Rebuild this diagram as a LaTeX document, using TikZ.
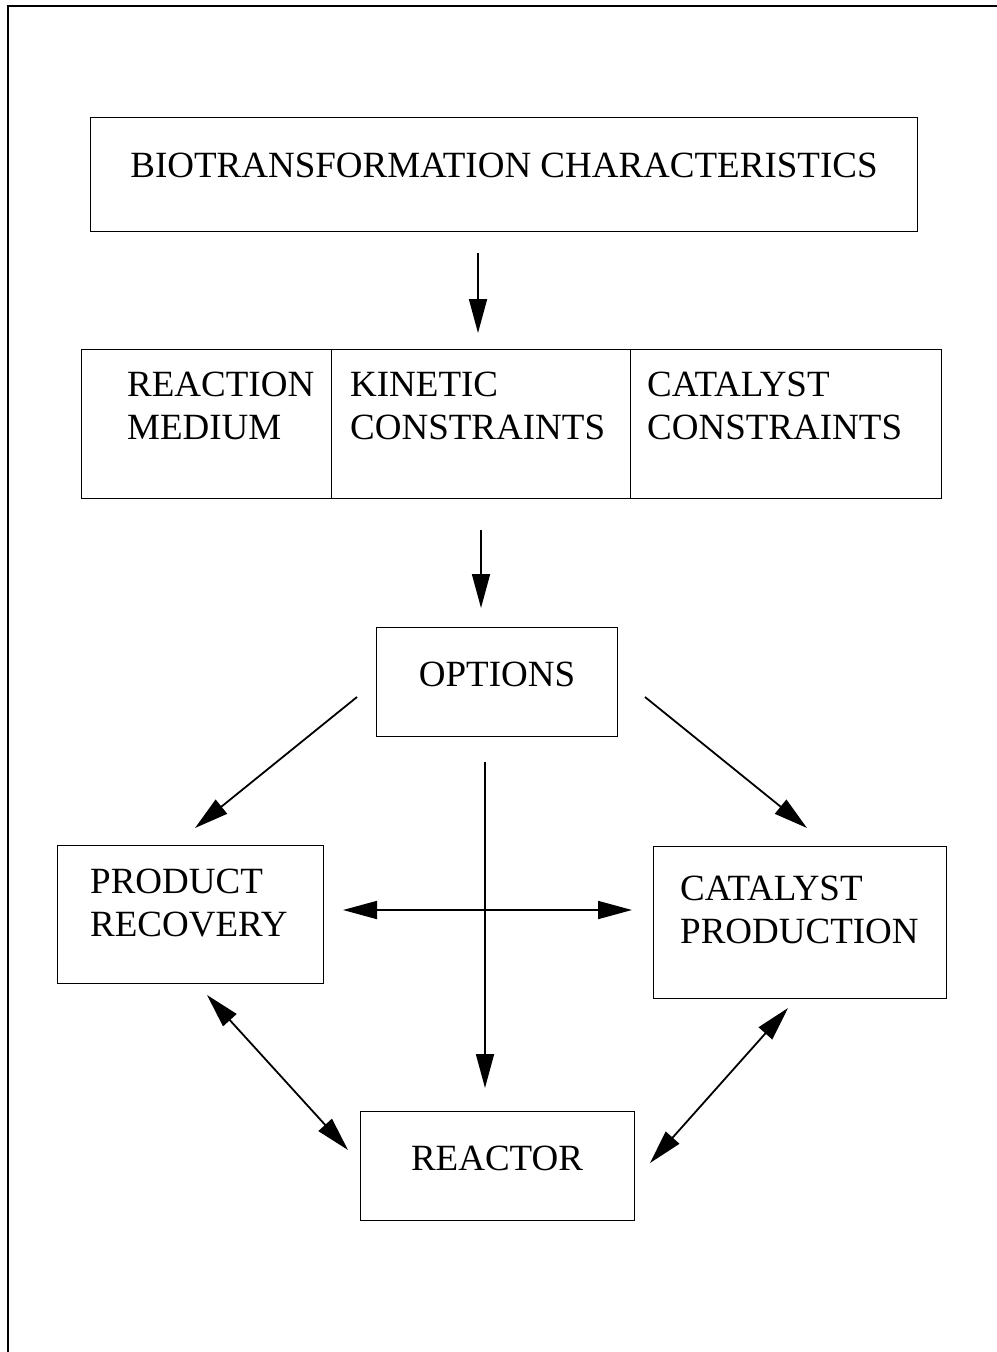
\documentclass[tikz,border=0pt]{standalone}
\usepackage{fontspec}
\setmainfont{Liberation Serif}
\usetikzlibrary{arrows.meta}
\begin{document}
\begin{tikzpicture}[x=1pt,y=-1pt,
  box/.style={draw,line width=1.4pt,inner sep=0pt,anchor=north west},
  lbl/.style={inner sep=0pt,font=\fontsize{37}{43}\selectfont},
  mlbl/.style={lbl,align=left,anchor=west},
  tip/.style={},
  arr/.style={line width=1.8pt,-{Triangle[length=34pt,width=18pt]}},
  darr/.style={line width=1.8pt,{Triangle[length=34pt,width=18pt]}-{Triangle[length=34pt,width=18pt]}}]
\useasboundingbox (0,0) rectangle (996,1352);
% page frame (left and top edges)
\draw[line width=2.4pt] (8,1360) -- (8,6) -- (1000,6);

% boxes
\node[box,minimum width=827pt,minimum height=114pt] (bio) at (90,117) {};
\node[box,minimum width=250pt,minimum height=149pt] (rm) at (81,349) {};
\node[box,minimum width=299pt,minimum height=149pt] (kc) at (331,349) {};
\node[box,minimum width=311pt,minimum height=149pt] (cc) at (630,349) {};
\node[box,minimum width=241pt,minimum height=109pt] (opt) at (376,627) {};
\node[box,minimum width=266pt,minimum height=138pt] (pr) at (57,845) {};
\node[box,minimum width=293pt,minimum height=152pt] (cp) at (653,846) {};
\node[box,minimum width=274pt,minimum height=109pt] (rx) at (360,1111) {};

% texts
\node[lbl] (tbio) at (504,165) {BIOTRANSFORMATION CHARACTERISTICS};
\node[mlbl] (trm) at (127,406) {REACTION\\MEDIUM};
\node[mlbl] (tkc) at (350,406) {KINETIC\\CONSTRAINTS};
\node[mlbl] (tcc) at (647,406) {CATALYST\\CONSTRAINTS};
\node[lbl] (topt) at (497,674) {OPTIONS};
\node[mlbl] (tpr) at (90,903) {PRODUCT\\RECOVERY};
\node[mlbl] (tcp) at (680,910) {CATALYST\\PRODUCTION};
\node[lbl] (trx) at (497,1158) {REACTOR};

% connector ends
\coordinate (a1s) at (478,253);  \coordinate (a1e) at (478,333);
\coordinate (a2s) at (481,530);  \coordinate (a2e) at (481,608);
\coordinate (a3s) at (357,697);  \coordinate (a3e) at (195,828);
\coordinate (a4s) at (645,697);  \coordinate (a4e) at (807,828);
\coordinate (a5s) at (485,762);  \coordinate (a5e) at (485,1088);
\coordinate (a6s) at (343,910);  \coordinate (a6e) at (632,910);
\coordinate (a7s) at (207,995);  \coordinate (a7e) at (348,1150);
\coordinate (a8s) at (788,1008); \coordinate (a8e) at (650,1163);

\draw[arr] (a1s) -- (a1e);
\draw[arr] (a2s) -- (a2e);
\draw[arr] (a3s) -- (a3e);
\draw[arr] (a4s) -- (a4e);
\draw[arr] (a5s) -- (a5e);
\draw[darr] (a6s) -- (a6e);
\draw[darr] (a7s) -- (a7e);
\draw[darr] (a8s) -- (a8e);
\end{tikzpicture}
\end{document}
